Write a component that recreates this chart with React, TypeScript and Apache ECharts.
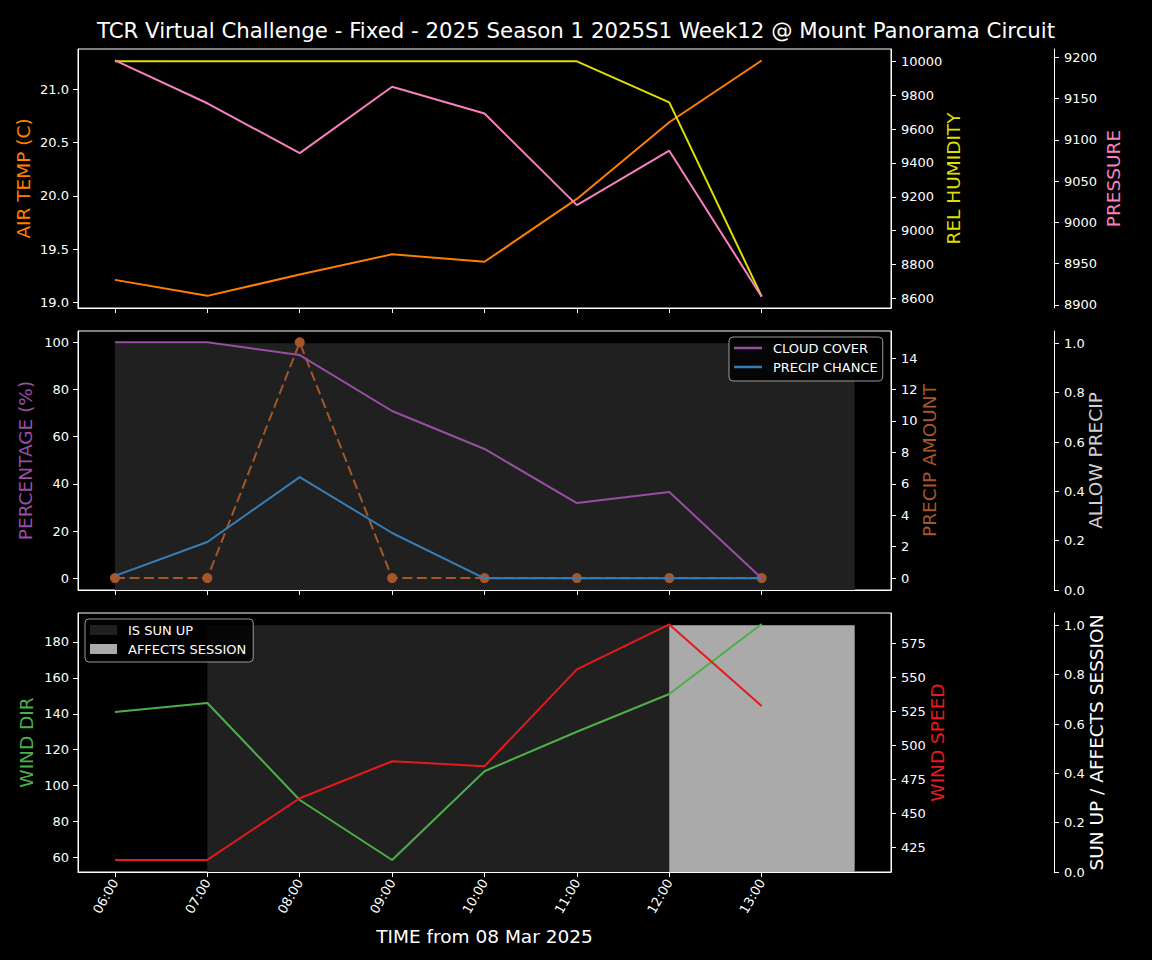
import React, { useEffect, useRef } from "react";
import * as echarts from "echarts";

const hours = ["06:00", "07:00", "08:00", "09:00", "10:00", "11:00", "12:00", "13:00"];
const airTemp = [19.21, 19.06, 19.26, 19.45, 19.38, 19.97, 20.69, 21.27];
const relHumidity = [10000, 10000, 10000, 10000, 10000, 10000, 9758, 8612];
const pressure = [9196.5, 9144.5, 9084, 9164.5, 9132, 9021, 9087, 8910];
const cloudCover = [100, 100, 94.6, 70.9, 54.8, 31.9, 36.6, 0];
const precipChance = [1, 15.4, 42.9, 19.2, 0, 0, 0, 0];
const precipAmount = [0, 0, 15, 0, 0, 0, 0, 0];
const allowPrecip = [1, 1, 1, 1, 1, 1, 1, 1];
const windDir = [141, 146, 92, 58.6, 108, 130, 151, 190];
const windSpeed = [416, 416, 461.3, 488.5, 484.8, 556, 589, 529];
const sunUp = [0, 1, 1, 1, 1, 1, 1, 1];
const affectsSession = [0, 0, 0, 0, 0, 0, 1, 1];

const airTempTicks = [19.0, 19.5, 20.0, 20.5, 21.0];
const humidityTicks = [8600, 8800, 9000, 9200, 9400, 9600, 9800, 10000];
const pressureTicks = [8900, 8950, 9000, 9050, 9100, 9150, 9200];
const percentTicks = [0, 20, 40, 60, 80, 100];
const precipAmountTicks = [0, 2, 4, 6, 8, 10, 12, 14];
const fractionTicks = [0, 0.2, 0.4, 0.6, 0.8, 1.0];
const windDirTicks = [60, 80, 100, 120, 140, 160, 180];
const windSpeedTicks = [425, 450, 475, 500, 525, 550, 575];

const FONT = "DejaVu Sans";
const C = {
  temp: "#ff7f00",
  hum: "#dede00",
  pres: "#f781bf",
  cloud: "#984ea3",
  chance: "#377eb8",
  amount: "#a65628",
  allow: "#d0d0d0",
  dir: "#4daf4a",
  speed: "#e41a1c",
  sun: "#202020",
  session: "#aaaaaa",
};

const pairs = (vals: number[]) => vals.map((v, i) => [i, v]);

function yAxis(
  gridIndex: number,
  name: string,
  color: string,
  min: number,
  max: number,
  ticks: number[],
  decimals: number,
  position: "left" | "right",
  offset: number,
  nameGap: number
) {
  return {
    type: "value",
    gridIndex,
    position,
    offset,
    min,
    max,
    name,
    nameLocation: "middle",
    nameRotate: 90,
    nameGap,
    nameMoveOverlap: false,
    nameTextStyle: { color, fontSize: 18.5, fontFamily: FONT },
    axisLine: { show: true, onZero: false, lineStyle: { color: "#ffffff", width: 1 } },
    axisTick: { show: true, length: 5, lineStyle: { color: "#ffffff" }, customValues: ticks },
    axisLabel: {
      color: "#ffffff",
      fontSize: 13,
      fontFamily: FONT,
      margin: position === "left" ? 9 : 10,
      customValues: ticks,
      formatter: (v: number) => v.toFixed(decimals),
    },
    splitLine: { show: false },
  };
}

function xAxis(gridIndex: number, showLabels: boolean) {
  return {
    type: "value",
    gridIndex,
    min: -0.4,
    max: 8.4,
    name: showLabels ? "TIME from 08 Mar 2025" : "",
    nameLocation: "middle",
    nameGap: 55,
    nameTextStyle: { color: "#ffffff", fontSize: 18.5, fontFamily: FONT },
    axisLine: { show: true, onZero: false, lineStyle: { color: "#ffffff" } },
    axisTick: { show: true, length: 5, lineStyle: { color: "#ffffff" }, customValues: hours.map((_, i) => i) },
    axisLabel: {
      show: showLabels,
      color: "#ffffff",
      fontSize: 13,
      fontFamily: FONT,
      rotate: 60,
      margin: 8,
      customValues: hours.map((_, i) => i),
      formatter: (v: number) => hours[Math.round(v)] ?? "",
    },
    splitLine: { show: false },
  };
}

const barRender = (params: any, api: any) => {
  const x0 = api.value(0);
  const h = api.value(1);
  const p0 = api.coord([x0, h]);
  const p1 = api.coord([x0 + 1, 0]);
  return {
    type: "rect",
    shape: { x: p0[0], y: p0[1], width: p1[0] - p0[0] + 0.6, height: p1[1] - p0[1] },
    style: { fill: api.visual("color") },
  };
};

function lineSeries(name: string, data: number[], color: string, xi: number, yi: number, extra: any = {}) {
  return {
    type: "line",
    name,
    xAxisIndex: xi,
    yAxisIndex: yi,
    data: pairs(data),
    symbol: "none",
    lineStyle: { color, width: 2 },
    itemStyle: { color },
    z: 5,
    ...extra,
  };
}

export default function App() {
  const ref = useRef<HTMLDivElement>(null);
  useEffect(() => {
    document.body.style.margin = "0";
    document.body.style.background = "#000";
    const chart = echarts.init(ref.current!, undefined, { renderer: "svg" });
    const gridBase = { left: 78, width: 813, height: 259, show: true, borderColor: "#ffffff", borderWidth: 1, backgroundColor: "#000000" };
    chart.setOption({
      animation: false,
      backgroundColor: "#000000",
      title: {
        text: "TCR Virtual Challenge - Fixed - 2025 Season 1 2025S1 Week12 @ Mount Panorama Circuit",
        left: "center",
        top: 15,
        textStyle: { color: "#ffffff", fontSize: 21.3, fontWeight: "normal", fontFamily: FONT },
      },
      legend: [
        {
          data: [
            { name: "CLOUD COVER", icon: "rect", itemStyle: { color: C.cloud } },
            { name: "PRECIP CHANCE", icon: "rect", itemStyle: { color: C.chance } },
          ],
          orient: "vertical",
          left: 729,
          top: 337,
          itemWidth: 28,
          itemHeight: 2.5,
          itemGap: 5,
          padding: [4, 5, 7, 5],
          borderColor: "#999999",
          borderWidth: 1,
          borderRadius: 4,
          backgroundColor: "rgba(0,0,0,0.8)",
          textStyle: { color: "#ffffff", fontSize: 13, fontFamily: FONT, lineHeight: 14, padding: [0, 0, 0, 6] },
        },
        {
          data: ["IS SUN UP", "AFFECTS SESSION"],
          orient: "vertical",
          left: 85,
          top: 619,
          itemWidth: 27,
          itemHeight: 10,
          itemGap: 5,
          icon: "rect",
          padding: [4, 7, 6, 5],
          borderColor: "#999999",
          borderWidth: 1,
          borderRadius: 4,
          backgroundColor: "rgba(0,0,0,0.8)",
          textStyle: { color: "#ffffff", fontSize: 13, fontFamily: FONT, lineHeight: 14, padding: [0, 0, 0, 6] },
        },
      ],
      grid: [
        { ...gridBase, top: 49 },
        { ...gridBase, top: 331 },
        { ...gridBase, top: 613 },
      ],
      xAxis: [xAxis(0, false), xAxis(1, false), xAxis(2, true)],
      yAxis: [
        yAxis(0, "AIR TEMP (C)", C.temp, 18.946, 21.378, airTempTicks, 1, "left", 0, 45),
        yAxis(0, "REL HUMIDITY", C.hum, 8543, 10073, humidityTicks, 0, "right", 0, 53),
        yAxis(0, "PRESSURE", C.pres, 8896.3, 9210.3, pressureTicks, 0, "right", 163, 50),
        yAxis(1, "PERCENTAGE (%)", C.cloud, -4.96, 104.8, percentTicks, 0, "left", 0, 43),
        yAxis(1, "PRECIP AMOUNT", C.amount, -0.76, 15.72, precipAmountTicks, 0, "right", 0, 29),
        yAxis(1, "ALLOW PRECIP", C.allow, 0, 1.05, fractionTicks, 1, "right", 163, 32),
        yAxis(2, "WIND DIR", C.dir, 51.9, 196.1, windDirTicks, 0, "left", 0, 42),
        yAxis(2, "WIND SPEED", C.speed, 407.1, 597.4, windSpeedTicks, 0, "right", 0, 37),
        yAxis(2, "SUN UP / AFFECTS SESSION", "#ffffff", 0, 1.05, fractionTicks, 1, "right", 163, 33),
      ],
      series: [
        lineSeries("AIR TEMP", airTemp, C.temp, 0, 0),
        lineSeries("REL HUMIDITY", relHumidity, C.hum, 0, 1),
        lineSeries("PRESSURE", pressure, C.pres, 0, 2),
        {
          type: "custom",
          name: "ALLOW PRECIP",
          xAxisIndex: 1,
          yAxisIndex: 5,
          renderItem: barRender,
          itemStyle: { color: C.sun },
          data: pairs(allowPrecip),
          z: 1,
        },
        lineSeries("CLOUD COVER", cloudCover, C.cloud, 1, 3),
        lineSeries("PRECIP CHANCE", precipChance, C.chance, 1, 3),
        lineSeries("PRECIP AMOUNT", precipAmount, C.amount, 1, 4, {
          symbol: "circle",
          symbolSize: 10,
          showSymbol: true,
          lineStyle: { color: C.amount, width: 2, type: [10, 4.5] },
          z: 4,
        }),
        {
          type: "custom",
          name: "IS SUN UP",
          xAxisIndex: 2,
          yAxisIndex: 8,
          renderItem: barRender,
          itemStyle: { color: C.sun },
          data: pairs(sunUp),
          z: 1,
        },
        {
          type: "custom",
          name: "AFFECTS SESSION",
          xAxisIndex: 2,
          yAxisIndex: 8,
          renderItem: barRender,
          itemStyle: { color: C.session },
          data: pairs(affectsSession),
          z: 2,
        },
        lineSeries("WIND DIR", windDir, C.dir, 2, 6),
        lineSeries("WIND SPEED", windSpeed, C.speed, 2, 7),
      ],
    });
    return () => chart.dispose();
  }, []);
  return (
    <div
      ref={ref}
      style={{ position: "absolute", left: 0, top: 0, width: 1152, height: 960, background: "#000" }}
    />
  );
}
